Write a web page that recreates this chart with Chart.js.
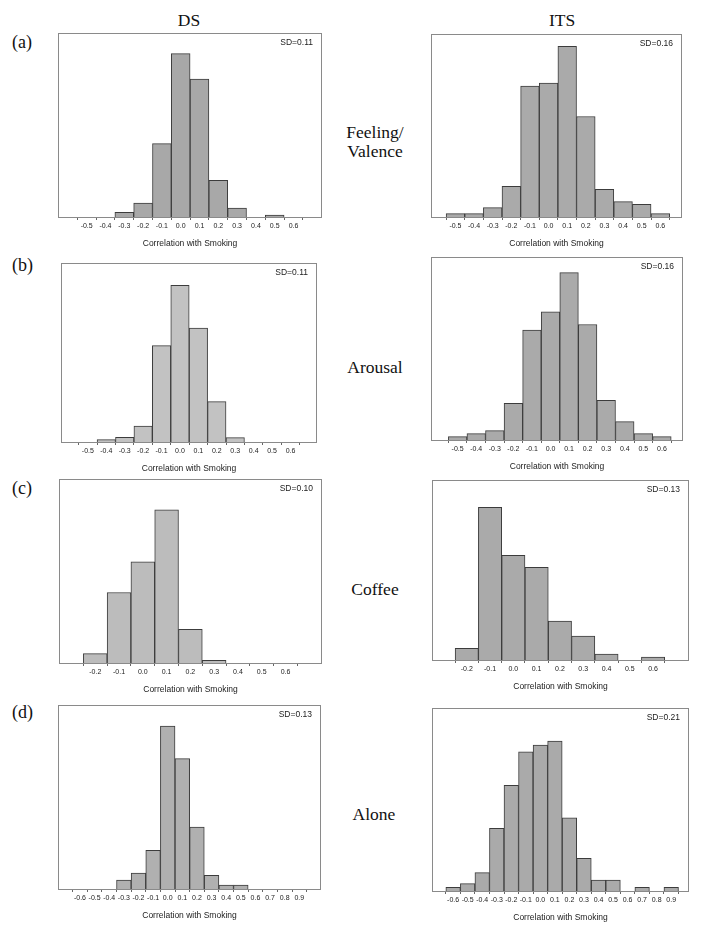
<!DOCTYPE html>
<html>
<head>
<meta charset="utf-8">
<script src="https://cdn.jsdelivr.net/npm/chart.js@4/dist/chart.umd.min.js"></script>
<style>
  body { margin: 0; background: #fff; width: 702px; height: 931px; position: relative; overflow: hidden; }
  .lbl { position: absolute; font-family: "Liberation Serif", "Times New Roman", serif; color: #111; white-space: nowrap; }
  .head { font-size: 17.5px; transform: translate(-50%, -50%); }
  .row { font-size: 18px; transform: translateY(-50%); }
  .cond { font-size: 17.5px; transform: translate(-50%, -50%); text-align: center; line-height: 19px; }
  canvas { position: absolute; }
</style>
</head>
<body>
<div class="lbl head" style="left:189px; top:20px;">DS</div>
<div class="lbl head" style="left:562px; top:20px;">ITS</div>
<div class="lbl row" style="left:12px; top:42px;">(a)</div>
<div class="lbl row" style="left:12px; top:265px;">(b)</div>
<div class="lbl row" style="left:12px; top:488px;">(c)</div>
<div class="lbl row" style="left:12px; top:712px;">(d)</div>
<div class="lbl cond" style="left:375px; top:142px;">Feeling/<br>Valence</div>
<div class="lbl cond" style="left:375px; top:367px;">Arousal</div>
<div class="lbl cond" style="left:375px; top:589px;">Coffee</div>
<div class="lbl cond" style="left:374px; top:814px;">Alone</div>

<canvas id="aDS"></canvas>
<canvas id="aITS"></canvas>
<canvas id="bDS"></canvas>
<canvas id="bITS"></canvas>
<canvas id="cDS"></canvas>
<canvas id="cITS"></canvas>
<canvas id="dDS"></canvas>
<canvas id="dITS"></canvas>

<script>
// bin centres (also the tick labels)
const binsWide = [-0.5, -0.4, -0.3, -0.2, -0.1, 0.0, 0.1, 0.2, 0.3, 0.4, 0.5, 0.6];
const binsCoffee = [-0.2, -0.1, 0.0, 0.1, 0.2, 0.3, 0.4, 0.5, 0.6];
const binsAlone = [-0.6, -0.5, -0.4, -0.3, -0.2, -0.1, 0.0, 0.1, 0.2, 0.3, 0.4, 0.5, 0.6, 0.7, 0.8, 0.9];

// frequencies
const countsValenceDS  = [0, 0, 1.4, 4.2, 22, 49, 41.4, 11, 2.7, 0, 0.6, 0];
const countsValenceITS = [1, 1, 2.8, 9.2, 39.2, 40.1, 51.1, 30.1, 8.3, 4.6, 3.8, 1];
const countsArousalDS  = [0, 0.7, 1.4, 4.8, 28.9, 47, 34.2, 12.1, 1.3, 0, 0, 0];
const countsArousalITS = [1, 1.9, 2.8, 11, 33, 38.5, 50.3, 34.7, 11.9, 5.5, 1.9, 1];
const countsCoffeeDS   = [2.8, 21.2, 30.4, 46, 10.1, 0.8, 0, 0, 0];
const countsCoffeeITS  = [3.5, 45.8, 31.4, 27.8, 11.7, 7.2, 1.8, 0, 0.9];
const countsAloneDS    = [0, 0, 0, 2.7, 4.8, 11.6, 49, 39.2, 18.6, 4.1, 1.2, 1.2, 0, 0, 0, 0];
const countsAloneITS   = [1.1, 2.2, 5.5, 18.7, 31.6, 41.6, 43.6, 44.8, 21.9, 9.8, 3.3, 3.3, 0, 1.1, 0, 1.1];

const sdLabels = ['SD=0.11', 'SD=0.16', 'SD=0.11', 'SD=0.16', 'SD=0.10', 'SD=0.13', 'SD=0.13', 'SD=0.21'];

const PAD = 2;
const AXIS_H = 32;

// frame + SD note
const framePlugin = {
  id: 'frame',
  afterDraw(chart, args, opts) {
    const { ctx, chartArea: a } = chart;
    ctx.save();
    ctx.strokeStyle = '#8a8a8a';
    ctx.lineWidth = 1;
    ctx.strokeRect(Math.round(a.left) + 0.5, Math.round(a.top) + 0.5, Math.round(a.right - a.left) - 1, Math.round(a.bottom - a.top));
    ctx.fillStyle = '#222';
    ctx.font = '8.5px "Liberation Sans", Arial, sans-serif';
    ctx.textAlign = 'right';
    ctx.textBaseline = 'middle';
    ctx.fillText(opts.text, a.right - 9, a.top + 10);
    ctx.restore();
  }
};

function histogram(id, box, bins, counts, xMin, xMax, yMax, fill, sd) {
  const cv = document.getElementById(id);
  const w = box[2] - box[0] + PAD * 2;
  const h = box[3] - box[1] + PAD + AXIS_H;
  cv.style.left = (box[0] - PAD) + 'px';
  cv.style.top = (box[1] - PAD) + 'px';
  cv.style.width = w + 'px';
  cv.style.height = h + 'px';
  cv.width = w;
  cv.height = h;

  new Chart(cv, {
    type: 'bar',
    data: {
      datasets: [{
        data: bins.map((b, i) => ({ x: b, y: counts[i] })),
        backgroundColor: fill,
        borderColor: '#3c3c3c',
        borderWidth: 1,
        borderSkipped: 'bottom',
        barPercentage: 1,
        categoryPercentage: 1
      }]
    },
    options: {
      responsive: false,
      animation: false,
      layout: { padding: { left: PAD, right: PAD, top: PAD, bottom: 0 } },
      plugins: { legend: { display: false }, tooltip: { enabled: false }, frame: { text: sd } },
      scales: {
        x: {
          type: 'linear',
          min: xMin,
          max: xMax,
          afterBuildTicks: (axis) => { axis.ticks = bins.map(v => ({ value: v })); },
          afterFit: (axis) => { axis.height = AXIS_H; },
          grid: { display: true, drawOnChartArea: false, drawTicks: true, tickLength: 3, color: '#666' },
          border: { display: false },
          ticks: {
            autoSkip: false,
            maxRotation: 0,
            padding: 2,
            color: '#222',
            font: { family: '"Liberation Sans", Arial, sans-serif', size: 7 },
            callback: (v) => Number(v).toFixed(1)
          },
          title: {
            display: true,
            text: 'Correlation with Smoking',
            color: '#222',
            padding: 0,
            font: { family: '"Liberation Sans", Arial, sans-serif', size: 8.5 }
          }
        },
        y: { display: false, min: 0, max: yMax }
      }
    },
    plugins: [framePlugin]
  });
}

histogram('aDS',  [58, 33, 322, 217],  binsWide,   countsValenceDS,  -0.594, 0.693, 55.2, '#a8a8a8', sdLabels[0]);
histogram('aITS', [431, 34, 682, 217], binsWide,   countsValenceITS, -0.575, 0.66,  54.8, '#aaaaaa', sdLabels[1]);
histogram('bDS',  [61, 263, 317, 442], binsWide,   countsArousalDS,  -0.588, 0.686, 53.7, '#c2c2c2', sdLabels[2]);
histogram('bITS', [431, 257, 683, 440], binsWide,  countsArousalITS, -0.587, 0.657, 55,   '#aaaaaa', sdLabels[3]);
histogram('cDS',  [59, 479, 322, 663], binsCoffee, countsCoffeeDS,   -0.291, 0.692, 55.3, '#bcbcbc', sdLabels[4]);
histogram('cITS', [432, 480, 689, 660], binsCoffee, countsCoffeeITS, -0.288, 0.693, 54,   '#aaaaaa', sdLabels[5]);
histogram('dDS',  [58, 705, 321, 889], binsAlone,  countsAloneDS,    -0.694, 0.992, 55.3, '#b0b0b0', sdLabels[6]);
histogram('dITS', [432, 708, 689, 891], binsAlone, countsAloneITS,   -0.69,  0.967, 54.7, '#aaaaaa', sdLabels[7]);
</script>
</body>
</html>
